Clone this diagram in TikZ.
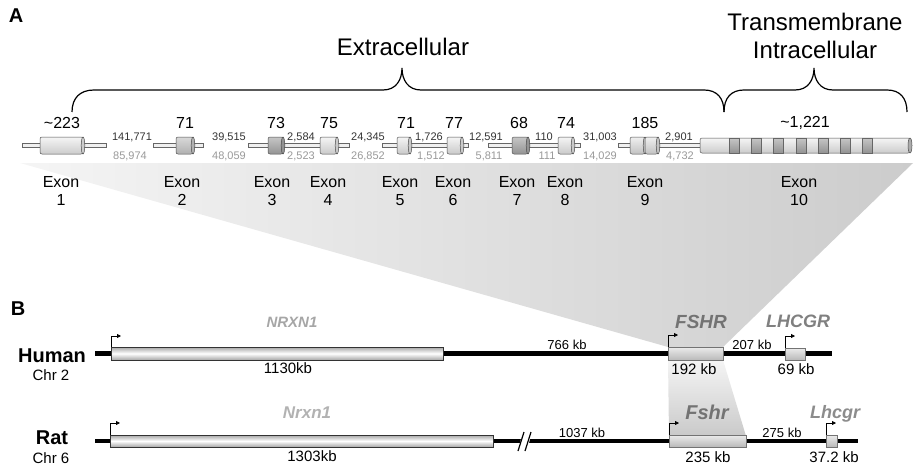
\documentclass[tikz,border=0pt]{standalone}
\usepackage{fontspec}
\setmainfont{Liberation Sans}
\usetikzlibrary{arrows.meta}
\newcommand\excyl[4]{%
  \shade[draw=black!70, line width=0.5pt, rounded corners=2pt, top color=#3, bottom color=#4] (#1,137) rectangle (#2,154);
  \filldraw[draw=black!70, line width=0.5pt, fill=#4] (#2,145.5) ellipse (1.8 and 8.5);
}
\newcommand\exband[1]{%
  \shade[draw=black!60, line width=0.4pt, top color=gray!45, bottom color=gray!85] (#1,138) rectangle ++(10,15);
}
\begin{document}
\begin{tikzpicture}[x=1pt,y=-1pt,
  tube/.style={draw=black!60, line width=0.5pt, fill=gray!12},
  up/.style={font=\fontsize{11}{11}\selectfont, text=black!80, inner sep=0pt},
  dn/.style={font=\fontsize{11}{11}\selectfont, text=black!40, inner sep=0pt},
  exsz/.style={font=\fontsize{16}{16}\selectfont, inner sep=0pt},
  exlab/.style={font=\fontsize{16}{16}\selectfont, inner sep=0pt},
  big/.style={font=\fontsize{24}{24}\selectfont, inner sep=0pt},
  panel/.style={font=\bfseries\fontsize{20}{20}\selectfont, inner sep=0pt},
  species/.style={font=\bfseries\fontsize{20}{20}\selectfont, inner sep=0pt},
  chr/.style={font=\fontsize{15}{15}\selectfont, inner sep=0pt},
  gname/.style={font=\bfseries\itshape\fontsize{#1}{#1}\selectfont, inner sep=0pt, anchor=base},
  kbon/.style={font=\fontsize{13}{13}\selectfont, inner sep=0pt, anchor=base},
  kbbelow/.style={font=\fontsize{15}{15}\selectfont, inner sep=0pt},
  chrom/.style={line width=4.5pt, black},
  longgene/.style={draw=black!80, line width=0.6pt, top color=gray!70, bottom color=gray!70, middle color=white},
  gene/.style={draw=black!55, line width=0.5pt, top color=gray!15, bottom color=gray!55},
  tss/.style={line width=0.8pt, -{Triangle[length=4pt,width=4pt]}},
  brace/.style={line width=1.2pt, black}
]
\useasboundingbox (0,0) rectangle (917,468);

% ---------- projection shadings ----------
\shade[left color=gray!8, right color=gray!40] (20,163) -- (913,163) -- (723,347) -- (668,347) -- cycle;
\shade[top color=gray!8, bottom color=gray!42] (668,360) -- (723,360) -- (746,436) -- (669,436) -- cycle;

% ---------- panel A ----------
\node[panel] (A) at (16,16) {A};
\node[big] (extra) at (403,47) {Extracellular};
\node[big] (trans) at (815,22) {Transmembrane};
\node[big] (intra) at (815,50) {Intracellular};

\draw[brace] (72,112) .. controls (72,98) and (80,90) .. (94,90) -- (383,90)
  .. controls (396,90) and (402,80) .. (402,68) .. controls (402,80) and (408,90) .. (421,90)
  -- (704,90) .. controls (717,90) and (724,98) .. (724,112);
\draw[brace] (724,112) .. controls (724,98) and (731,90) .. (744,90) -- (795,90)
  .. controls (808,90) and (814,80) .. (814,68) .. controls (814,80) and (820,90) .. (833,90)
  -- (887,90) .. controls (900,90) and (907,98) .. (907,112);

% intron tubes
\draw[tube] (22,143.5) rectangle (106,147.5);
\draw[tube] (153,143.5) rectangle (203,147.5);
\draw[tube] (248,143.5) rectangle (349,147.5);
\draw[tube] (382,143.5) rectangle (468,147.5);
\draw[tube] (488,143.5) rectangle (580,147.5);
\draw[tube] (618,143.5) rectangle (702,147.5);

% exons
\excyl{40}{83}{gray!8}{gray!40}
\excyl{176}{193}{gray!30}{gray!62}
\excyl{268}{283}{gray!45}{gray!85}
\excyl{320}{337}{gray!8}{gray!42}
\excyl{397}{410}{gray!8}{gray!42}
\excyl{447}{462}{gray!8}{gray!42}
\excyl{512}{528}{gray!45}{gray!85}
\excyl{558}{573}{gray!8}{gray!42}
\excyl{630}{645}{gray!12}{gray!48}
\excyl{645}{658}{gray!12}{gray!48}
\shade[draw=black!70, line width=0.5pt, rounded corners=2pt, top color=gray!8, bottom color=gray!40] (700,138) rectangle (910,153);
\foreach \bx in {729,751,773,796,818,840,862} {\exband{\bx}}
\filldraw[draw=black!70, line width=0.5pt, fill=gray!65] (910,145.5) ellipse (2 and 7.5);

% exon sizes
\node[exsz] (s1) at (62,123) {\textasciitilde 223};
\node[exsz] (s2) at (185,123) {71};
\node[exsz] (s3) at (276,123) {73};
\node[exsz] (s4) at (329,123) {75};
\node[exsz] (s5) at (406,123) {71};
\node[exsz] (s6) at (454,123) {77};
\node[exsz] (s7) at (519,123) {68};
\node[exsz] (s8) at (566,123) {74};
\node[exsz] (s9) at (645,123) {185};
\node[exsz] (s10) at (805,123) {\textasciitilde 1,221};

% intron sizes
\node[up] (u1) at (132,137) {141,771};  \node[dn] (d1) at (130,156) {85,974};
\node[up] (u2) at (229,137) {39,515};   \node[dn] (d2) at (229,156) {48,059};
\node[up] (u3) at (301,137) {2,584};    \node[dn] (d3) at (301,156) {2,523};
\node[up] (u4) at (368,137) {24,345};   \node[dn] (d4) at (368,156) {26,852};
\node[up] (u5) at (429,137) {1,726};    \node[dn] (d5) at (431,156) {1,512};
\node[up] (u6) at (486,137) {12,591};   \node[dn] (d6) at (489,156) {5,811};
\node[up] (u7) at (544,137) {110};      \node[dn] (d7) at (547,156) {111};
\node[up] (u8) at (600,137) {31,003};   \node[dn] (d8) at (600,156) {14,029};
\node[up] (u9) at (679,137) {2,901};    \node[dn] (d9) at (680,156) {4,732};

% exon labels
\foreach \i/\x in {1/61,2/182,3/272,4/328,5/400,6/453,7/517,8/565,9/645,10/799} {
  \node[exlab] (ex\i) at (\x,182) {Exon};
  \node[exlab] (en\i) at (\x,200) {\i};
}

% ---------- panel B ----------
\node[panel] (B) at (18,309) {B};
\node[species] (human) at (52,356) {Human};
\node[chr] (chr2) at (51,375) {Chr 2};
\node[species] (rat) at (52,438) {Rat};
\node[chr] (chr6) at (51,458) {Chr 6};

% human chromosome
\coordinate (hL) at (95,353.5);
\coordinate (hR) at (832,353.5);
\draw[chrom] (hL) -- (hR);
\shade[longgene] (111,347) rectangle (443,360);
\shade[gene] (668,347) rectangle (723,360);
\shade[gene] (785,348) rectangle (805,360);
\draw[tss] (111,347) |- (121,336);
\draw[tss] (668,347) |- (678,335);
\draw[tss] (785,348) |- (795,336);

\node[gname=15, text=black!35] (nrxn) at (292,327) {NRXN1};
\node[gname=19, text=black!55] (fshr) at (701,328) {FSHR};
\node[gname=18, text=black!50] (lhcgr) at (798,327) {LHCGR};
\node[kbon] (k766) at (567,349) {766 kb};
\node[kbon] (k207) at (752,349) {207 kb};
\node[kbbelow] (k1130) at (288,368) {1130kb};
\node[kbbelow] (k192) at (694,369) {192 kb};
\node[kbbelow] (k69) at (796,369) {69 kb};

% rat chromosome
\coordinate (rL) at (95,441);
\coordinate (rR) at (858,441);
\draw[chrom] (rL) -- (rR);
\fill[white] (518,450) -- (523,432) -- (532,432) -- (527,450) -- cycle;
\draw[line width=1.2pt] (518,451) -- (524,432);
\draw[line width=1.2pt] (525,451) -- (531,432);
\shade[longgene] (110,435) rectangle (493,447);
\shade[gene] (669,435) rectangle (746,447);
\shade[gene] (826,435) rectangle (837,447);
\draw[tss] (110,435) |- (120,423);
\draw[tss] (669,435) |- (679,423);
\draw[tss] (826,435) |- (836,423);

\node[gname=17, text=black!30] (nrxnr) at (307,418) {Nrxn1};
\node[gname=20, text=black!55] (fshrr) at (707,419) {Fshr};
\node[gname=18, text=black!45] (lhcgrr) at (835,418) {Lhcgr};
\node[kbon] (k1037) at (582,437) {1037 kb};
\node[kbon] (k275) at (782,437) {275 kb};
\node[kbbelow] (k1303) at (312,456) {1303kb};
\node[kbbelow] (k235) at (708,457) {235 kb};
\node[kbbelow] (k372) at (834,457) {37.2 kb};
\end{tikzpicture}
\end{document}
